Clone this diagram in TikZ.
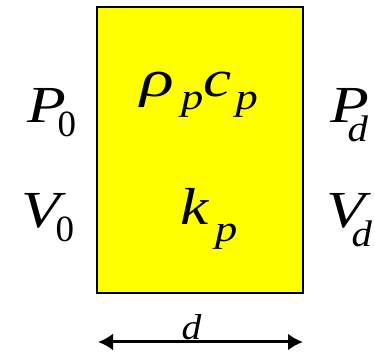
\documentclass[tikz,border=0pt]{standalone}
\usepackage{fontspec}
\newfontfamily\slabfont{Liberation Serif}
\usepackage{graphicx}
\usepackage{tikz}
\usetikzlibrary{arrows.meta}
\definecolor{slabyellow}{RGB}{255,255,0}
% widened letter
\newcommand{\widen}[2][1.22]{\scalebox{#1}[1]{#2}}
% main letter set in a box of fixed advance, then a lowered index
\newcommand{\symsub}[4]{\makebox[#1][l]{#3}\raisebox{-#2}{\fontsize{37}{40}\selectfont #4}}

\begin{document}
\begin{tikzpicture}[x=1pt,y=-1pt,
 sym/.style={anchor=base west,inner sep=0pt,font=\slabfont\fontsize{52}{56}\selectfont\itshape},
 dim/.style={anchor=base west,inner sep=0pt,font=\slabfont\fontsize{36}{40}\selectfont\itshape},
 slab/.style={draw,line width=2pt,fill=slabyellow,minimum width=206pt,minimum height=286pt,inner sep=0pt}]
\useasboundingbox (0,0) rectangle (375,352);
\node[slab] (plate) at (200,150) {};
\node[sym] (rc) at (140,97) {\symsub{40.8pt}{13pt}{\widen[1.35]{ρ}}{\widen[1.2]{p}}\symsub{32.4pt}{13pt}{\widen{c}}{\widen[1.2]{p}}};
\node[sym] (k) at (180,225) {\symsub{34.8pt}{17pt}{\widen{k}}{\widen[1.2]{p}}};
\node[sym] (p0) at (27,123) {\symsub{30.5pt}{14pt}{\widen{P}}{\upshape 0}};
\node[sym] (v0) at (21,228) {\symsub{34.5pt}{14pt}{\widen{V}}{\upshape 0}};
\node[sym] (pd) at (330,123) {\symsub{17.4pt}{19pt}{\widen{P}}{\widen[1.1]{d}}};
\node[sym] (vd) at (326,228) {\symsub{25.5pt}{19pt}{\widen{V}}{\widen[1.1]{d}}};
% thickness arrow
\coordinate (dl) at (98,342);
\coordinate (dr) at (303,342);
\draw[line width=3pt,{Latex[length=15pt,width=17pt]}-{Latex[length=15pt,width=17pt]}] (dl) -- (dr);
\node[dim] (d) at (181.5,340) {\widen[1.1]{d}};
\end{tikzpicture}
\end{document}
